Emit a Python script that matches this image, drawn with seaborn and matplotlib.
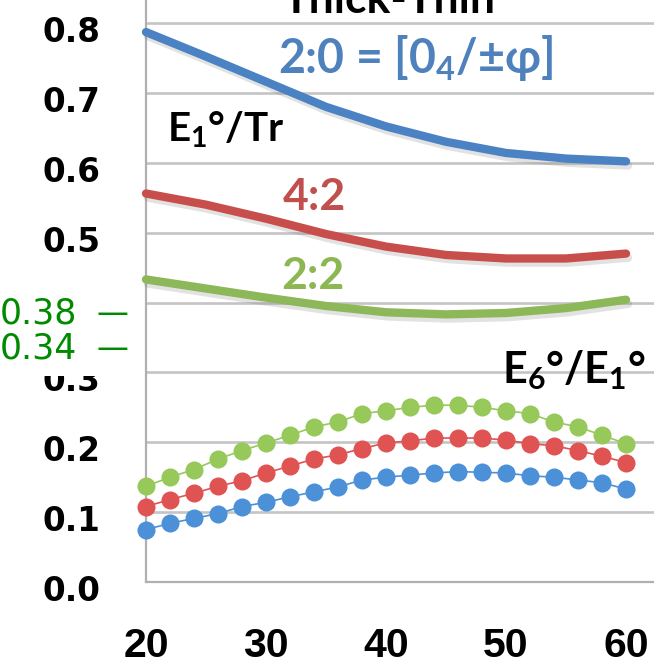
import matplotlib
matplotlib.use("Agg")
import matplotlib.pyplot as plt
import matplotlib.patheffects as pe
from matplotlib.patches import Rectangle
from matplotlib.ticker import MultipleLocator
from matplotlib.transforms import ScaledTranslation
import pandas as pd
import seaborn as sns

# ---- data -------------------------------------------------------------
# E1°/Tr curves versus ply angle
angle_line = [20, 25, 30, 35, 40, 45, 50, 55, 60]
e1tr_20 = [0.787, 0.752, 0.716, 0.680, 0.652, 0.630, 0.614, 0.606, 0.602]
e1tr_42 = [0.556, 0.540, 0.520, 0.498, 0.480, 0.468, 0.463, 0.463, 0.470]
e1tr_22 = [0.433, 0.420, 0.407, 0.395, 0.386, 0.383, 0.385, 0.392, 0.404]

# E6°/E1° ratios versus ply angle
angle_dots = [20, 22, 24, 26, 28, 30, 32, 34, 36, 38, 40,
              42, 44, 46, 48, 50, 52, 54, 56, 58, 60]
e6e1_20 = [0.075, 0.084, 0.091, 0.098, 0.108, 0.114, 0.122, 0.129, 0.136, 0.146, 0.150,
           0.153, 0.156, 0.158, 0.157, 0.156, 0.152, 0.150, 0.146, 0.142, 0.133]
e6e1_42 = [0.108, 0.118, 0.127, 0.137, 0.145, 0.156, 0.166, 0.176, 0.182, 0.191, 0.199,
           0.202, 0.206, 0.206, 0.206, 0.203, 0.198, 0.195, 0.188, 0.180, 0.171]
e6e1_22 = [0.137, 0.150, 0.161, 0.176, 0.188, 0.199, 0.210, 0.222, 0.229, 0.241, 0.245,
           0.250, 0.253, 0.253, 0.250, 0.245, 0.241, 0.229, 0.222, 0.210, 0.198]

layups = ["2:0", "4:2", "2:2"]
y_ticks = [0.0, 0.1, 0.2, 0.3, 0.4, 0.5, 0.6, 0.7, 0.8]
y_ticklabels = ["0.0", "0.1", "0.2", "0.3", "0.4", "0.5", "0.6", "0.7", "0.8"]
x_ticks = [20, 30, 40, 50, 60]
x_ticklabels = ["20", "30", "40", "50", "60"]
marked_levels = ["0.38", "0.34"]

lines_df = pd.DataFrame({
    "angle": angle_line * 3,
    "ratio": e1tr_20 + e1tr_42 + e1tr_22,
    "layup": [l for l in layups for _ in angle_line],
})
dots_df = pd.DataFrame({
    "angle": angle_dots * 3,
    "ratio": e6e1_20 + e6e1_42 + e6e1_22,
    "layup": [l for l in layups for _ in angle_dots],
})

line_colors = {"2:0": "#4A82C3", "4:2": "#C84E4B", "2:2": "#8DB859"}
dot_colors = {"2:0": "#4C90D8", "4:2": "#E05353", "2:2": "#96C85A"}
text_colors = {"2:0": "#4F81BD", "4:2": "#C0504D", "2:2": "#8CB752"}

# ---- style --------------------------------------------------------------
sns.set_style("white")
plt.rcParams["font.family"] = ["DejaVu Sans"]
plt.rcParams["mathtext.default"] = "regular"
plt.rcParams["text.color"] = "black"

GRID = "#C4C4C4"
W, H, DPI = 654, 667, 100

fig = plt.figure(figsize=(W / DPI, H / DPI), dpi=DPI)
ax = fig.add_axes([146 / W, 85 / H, 1 - 146 / W, 1 - 85 / H])

shadow = [pe.SimpleLineShadow(offset=(1.5, -3), shadow_color="#707070", alpha=0.2),
          pe.Normal()]

sns.lineplot(data=lines_df, x="angle", y="ratio", hue="layup", hue_order=layups,
             palette=line_colors, lw=6, legend=False, ax=ax, zorder=3)
for ln in ax.lines:
    ln.set_solid_capstyle("round")
    ln.set_solid_joinstyle("round")
    ln.set_clip_on(False)
    ln.set_path_effects(shadow)
n_curves = len(ax.lines)

sns.lineplot(data=dots_df, x="angle", y="ratio", hue="layup", hue_order=layups,
             palette=dot_colors, lw=1.2, marker="o", markersize=13,
             markeredgewidth=0, legend=False, ax=ax, zorder=4)
for ln in ax.lines[n_curves:]:
    ln.set_clip_on(False)

# ---- axes ---------------------------------------------------------------
ax.set_xlim(20, 20 + (W - 146) / 12)
ax.set_ylim(0, 582 / 698.75)
ax.set_xlabel("")
ax.set_ylabel("")

ax.grid(axis="y", which="major", color=GRID, lw=1.9, zorder=0)
ax.set_axisbelow(True)
for side in ("top", "right"):
    ax.spines[side].set_visible(False)
for side in ("left", "bottom"):
    ax.spines[side].set_color("#B0B0B0")
    ax.spines[side].set_linewidth(1.6)

ax.set_yticks(y_ticks)
ax.set_yticklabels(y_ticklabels)
ax.set_xticks(x_ticks)
ax.set_xticklabels(x_ticklabels)
ax.yaxis.set_minor_locator(MultipleLocator(0.02))
ax.xaxis.set_minor_locator(MultipleLocator(2))

ax.tick_params(axis="y", which="major", direction="out", length=9, width=1.9,
               color=GRID, pad=24, labelcolor="black")
ax.tick_params(axis="y", which="minor", direction="in", length=8, width=1.6,
               color="#C8C8C8")
ax.tick_params(axis="x", which="major", direction="inout", length=17, width=1.5,
               color="#B0B0B0", pad=24, labelcolor="black")
ax.tick_params(axis="x", which="minor", direction="in", length=6.5, width=1.3,
               color="#B8B8B8")

for lab in ax.get_yticklabels():
    lab.set_fontsize(23.5)
    lab.set_fontweight("bold")
    lab.set_family("DejaVu Sans")
    lab.set_transform(lab.get_transform() + ScaledTranslation(0, -0.06, fig.dpi_scale_trans))
for lab in ax.get_xticklabels():
    lab.set_fontsize(29.5)
    lab.set_fontweight("bold")
    lab.set_family("Liberation Sans")

# ---- annotations --------------------------------------------------------
label_font = dict(family=["Lato", "DejaVu Sans"], fontweight="bold",
                  va="baseline", ha="left", clip_on=False, zorder=6)
ax.text(31.4, 0.8143, "Thick-Thin", color="black", fontsize=32, **label_font)
ax.text(31.0, 0.7285, "2:0 = [0$_4$/±φ]", color=text_colors["2:0"], fontsize=33.5, **label_font)
ax.text(21.75, 0.630, "E$_1$°/Tr", color="black", fontsize=29, **label_font)
ax.text(31.4, 0.533, "4:2", color=text_colors["4:2"], fontsize=32, **label_font)
ax.text(31.3, 0.419, "2:2", color=text_colors["2:2"], fontsize=32, **label_font)
ax.text(49.7, 0.285, "E$_6$°/E$_1$°", color="black", fontsize=31, **label_font)

# white panel holding the marked levels at the left margin
fig.patches.append(Rectangle((0, 1 - 376 / H), 128 / W, (376 - 268) / H,
                             transform=fig.transFigure, facecolor="white",
                             edgecolor="none", zorder=5))
level_color = "#008A00"
for txt, base in zip(marked_levels, [323, 358]):
    fig.text(0 / W, 1 - base / H, txt, color=level_color, fontsize=25,
             family="DejaVu Sans", va="baseline", ha="left", zorder=6)
    fig.text(97 / W, 1 - base / H, "—", color=level_color, fontsize=23,
             family="DejaVu Sans", va="baseline", ha="left", zorder=6)

fig.savefig("out.png", dpi=DPI)
